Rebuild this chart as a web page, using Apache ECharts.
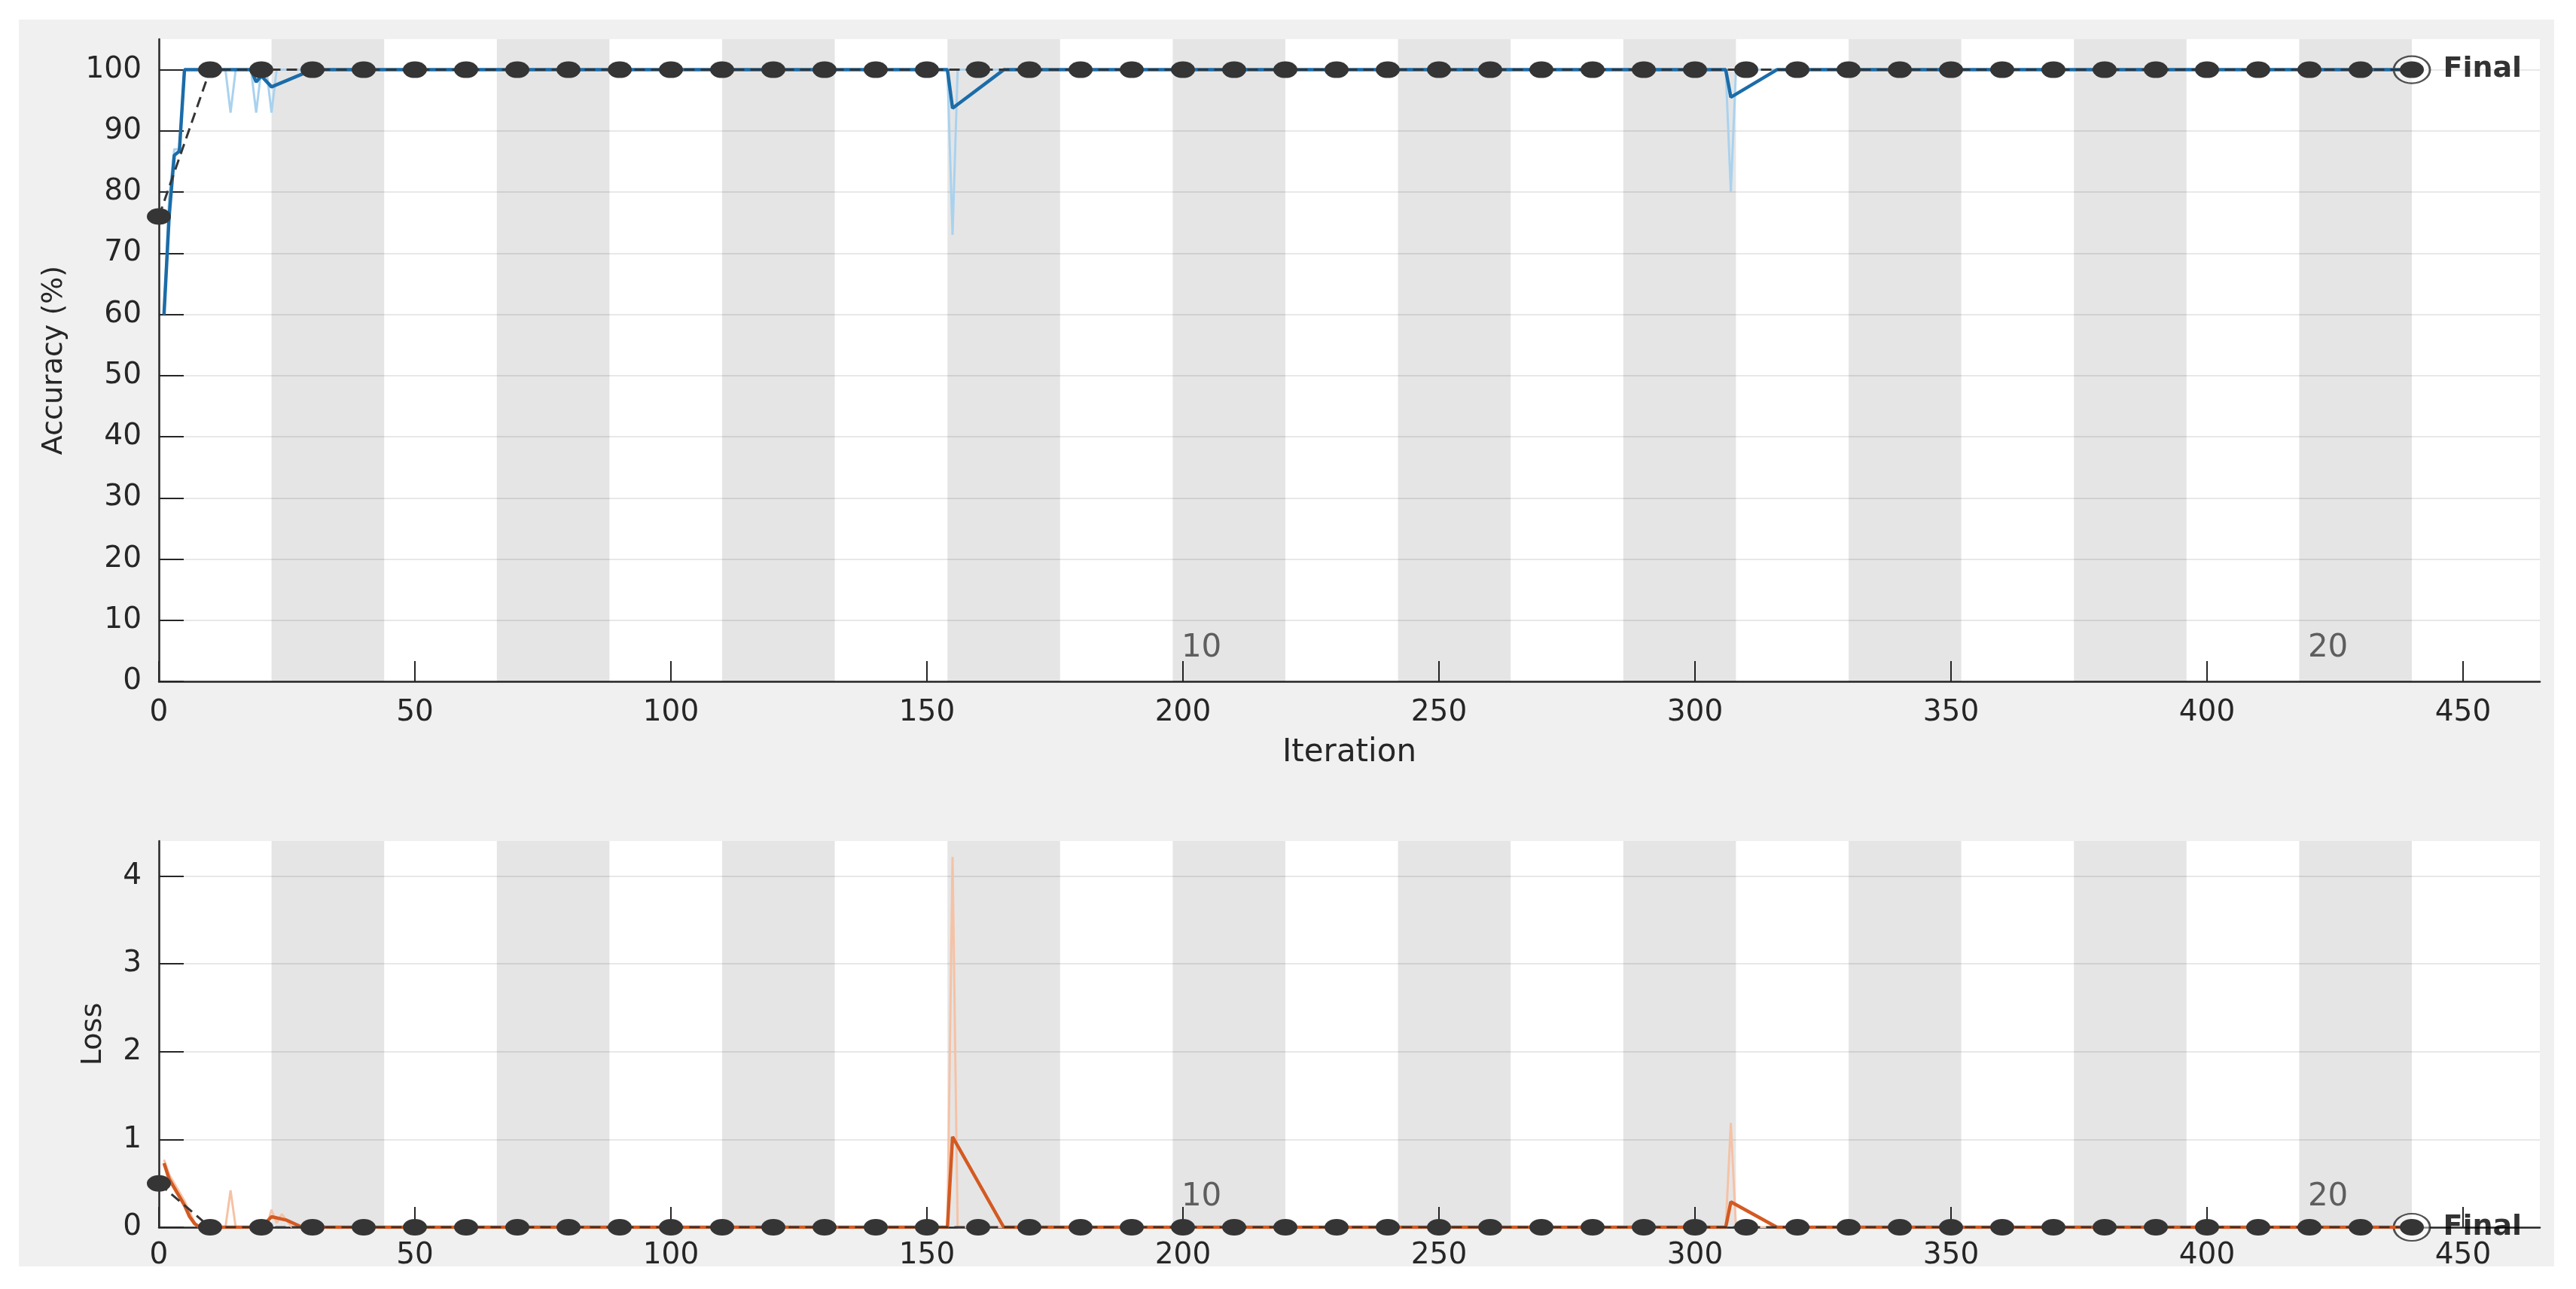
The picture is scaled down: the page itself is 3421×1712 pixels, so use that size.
<!DOCTYPE html>
<html>
<head>
<meta charset="utf-8">
<title>Training Progress</title>
<script src="https://cdn.jsdelivr.net/npm/echarts@6/dist/echarts.min.js"></script>
<style>
  html, body { margin: 0; padding: 0; background: #fff; }
  #chart { width: 3421px; height: 1712px; }
</style>
</head>
<body>
<div id="chart"></div>
<script>
// validation runs every 10 iterations
const valIter = [
  0, 10, 20, 30, 40, 50, 60, 70, 80, 90,
  100, 110, 120, 130, 140, 150, 160, 170, 180, 190,
  200, 210, 220, 230, 240, 250, 260, 270, 280, 290,
  300, 310, 320, 330, 340, 350, 360, 370, 380, 390,
  400, 410, 420, 430, 440
];
const valAcc = [
  76, 100, 100, 100, 100, 100, 100, 100, 100, 100,
  100, 100, 100, 100, 100, 100, 100, 100, 100, 100,
  100, 100, 100, 100, 100, 100, 100, 100, 100, 100,
  100, 100, 100, 100, 100, 100, 100, 100, 100, 100,
  100, 100, 100, 100, 100
];
const valLoss = [
  0.5, 0, 0, 0, 0, 0, 0, 0, 0, 0,
  0, 0, 0, 0, 0, 0, 0, 0, 0, 0,
  0, 0, 0, 0, 0, 0, 0, 0, 0, 0,
  0, 0, 0, 0, 0, 0, 0, 0, 0, 0,
  0, 0, 0, 0, 0
];

// training curves, [iteration, value] at each corner of the line
const accRaw = [
  [1, 60], [2, 79], [3, 87], [4, 87], [5, 100], [13, 100], [14, 93], [15, 100],
  [18, 100], [19, 93], [20, 100], [21, 100], [22, 93], [23, 100],
  [154, 100], [155, 73], [156, 100], [306, 100], [307, 80], [308, 100], [440, 100]
];
const accSmooth = [
  [1, 60], [2, 76], [3, 86], [4, 86.7], [5, 100], [18, 100], [19, 98], [20, 99],
  [22, 97.2], [30, 100], [154, 100], [155, 93.7], [165, 100],
  [306, 100], [307, 95.5], [316, 100], [440, 100]
];
const lossRaw = [
  [1, 0.77], [2, 0.6], [3, 0.5], [5, 0.3], [7, 0.05], [8, 0], [13, 0], [14, 0.42], [15, 0],
  [21, 0], [22, 0.2], [23, 0.05], [24, 0.15], [26, 0], [154, 0], [155, 4.22], [156, 0],
  [306, 0], [307, 1.19], [308, 0], [440, 0]
];
const lossSmooth = [
  [1, 0.73], [2, 0.55], [3, 0.45], [4, 0.35], [5, 0.25], [6, 0.12], [7, 0.04], [8, 0],
  [20, 0], [22, 0.12], [25, 0.08], [28, 0], [154, 0], [155, 1.03], [165, 0],
  [306, 0], [307, 0.29], [316, 0], [440, 0]
];

// shaded (even) epochs, 22 iterations each
const bandStarts = [22, 66, 110, 154, 198, 242, 286, 330, 374, 418];
const bandEnds = [44, 88, 132, 176, 220, 264, 308, 352, 396, 440];
const epochLabels = ['10', '20'];
const epochLabelIter = [198, 418];

const finalIter = 440;
const xTicks = [0, 50, 100, 150, 200, 250, 300, 350, 400, 450];
const accTicks = [0, 10, 20, 30, 40, 50, 60, 70, 80, 90, 100];
const lossTicks = [0, 1, 2, 3, 4];

const font = 'DejaVu Sans';
const ink = '#262626';
const ellipse = 'path://M0,1A1,1,0,1,1,2,1A1,1,0,1,1,0,1Z';

const chart = echarts.init(document.getElementById('chart'));

function xAxisFor(gridIndex, labelMargin, name) {
  return {
    type: 'value', gridIndex: gridIndex, min: 0, max: 465, interval: 50,
    axisLine: { show: true, onZero: false, lineStyle: { color: ink, width: 2.5 } },
    axisTick: { show: true, inside: true, length: 27, customValues: xTicks, lineStyle: { color: ink, width: 2 } },
    axisLabel: {
      customValues: xTicks, margin: labelMargin,
      color: ink, fontFamily: font, fontSize: 39,
      formatter: function (v) { return xTicks.indexOf(v) >= 0 ? String(v) : ''; }
    },
    splitLine: { show: false },
    name: name, nameLocation: 'middle', nameGap: 74,
    nameTextStyle: { color: ink, fontFamily: font, fontSize: 42 }
  };
}

function yAxisFor(gridIndex, max, interval, ticks, name, nameGap) {
  return {
    type: 'value', gridIndex: gridIndex, min: 0, max: max, interval: interval,
    axisLine: { show: true, onZero: false, lineStyle: { color: ink, width: 2.5 } },
    axisTick: { show: true, inside: true, length: 33, customValues: ticks, lineStyle: { color: ink, width: 2 } },
    axisLabel: {
      customValues: ticks, margin: 23,
      color: ink, fontFamily: font, fontSize: 39,
      formatter: function (v) { return ticks.indexOf(v) >= 0 ? String(v) : ''; }
    },
    splitLine: { show: true, lineStyle: { color: 'rgba(0,0,0,0.09)', width: 2 } },
    name: name, nameLocation: 'middle', nameGap: nameGap, nameRotate: 90,
    nameTextStyle: { color: ink, fontFamily: font, fontSize: 38 }
  };
}

function panelSeries(idx, raw, smooth, rawColor, smoothColor, valValues, epochY, finalY) {
  const valData = valIter.map(function (it, i) { return [it, valValues[i]]; });
  return [
    {
      type: 'line', xAxisIndex: idx, yAxisIndex: idx, data: raw,
      showSymbol: false, lineStyle: { color: rawColor, width: 3 },
      markArea: {
        silent: true,
        itemStyle: { color: 'rgba(0,0,0,0.1)' },
        data: bandStarts.map(function (s, i) { return [{ xAxis: s }, { xAxis: bandEnds[i] }]; })
      }
    },
    {
      type: 'line', xAxisIndex: idx, yAxisIndex: idx, data: smooth,
      showSymbol: false, lineStyle: { color: smoothColor, width: 4.5 }
    },
    {
      type: 'scatter', xAxisIndex: idx, yAxisIndex: idx,
      data: [[finalIter, finalY]],
      symbol: ellipse, symbolSize: [48, 36],
      itemStyle: { color: 'rgba(255,255,255,0.6)', borderColor: ink, borderWidth: 2.5 },
      label: {
        show: true, position: 'right', distance: 16, formatter: 'Final',
        color: '#000', fontFamily: font, fontSize: 38, fontWeight: 'bold'
      }
    },
    {
      type: 'line', xAxisIndex: idx, yAxisIndex: idx, data: valData,
      symbol: ellipse, symbolSize: [32, 22], showSymbol: true,
      itemStyle: { color: '#353535' },
      lineStyle: { color: '#353535', width: 3, type: [14, 8] }
    },
    {
      type: 'scatter', xAxisIndex: idx, yAxisIndex: idx,
      data: epochLabelIter.map(function (it) { return [it, epochY]; }),
      symbolSize: 1, itemStyle: { color: 'transparent' },
      label: {
        show: true, position: [12, 0], align: 'left', verticalAlign: 'bottom',
        formatter: function (p) { return epochLabels[p.dataIndex]; },
        color: '#3c3c3c', fontFamily: font, fontSize: 42
      }
    }
  ];
}

const option = {
  backgroundColor: '#ffffff',
  animation: false,
  graphic: [
    { type: 'rect', z: -100, shape: { x: 25, y: 26, width: 3367, height: 1656 }, style: { fill: '#f0f0f0' } }
  ],
  grid: [
    { left: 211, top: 52, width: 3162, height: 853, show: true, backgroundColor: '#ffffff', borderWidth: 0 },
    { left: 211, top: 1117, width: 3162, height: 513, show: true, backgroundColor: '#ffffff', borderWidth: 0 }
  ],
  xAxis: [
    xAxisFor(0, 22, 'Iteration'),
    xAxisFor(1, 18, '')
  ],
  yAxis: [
    yAxisFor(0, 105, 10, accTicks, 'Accuracy (%)', 120),
    yAxisFor(1, 4.4, 1, lossTicks, 'Loss', 68)
  ],
  series: [].concat(
    panelSeries(0, accRaw, accSmooth, '#a9d2ee', '#1b6ca8', valAcc, 2.8, 100),
    panelSeries(1, lossRaw, lossSmooth, '#f5c2a6', '#d35a22', valLoss, 0.16, 0)
  )
};

chart.setOption(option);
</script>
</body>
</html>
